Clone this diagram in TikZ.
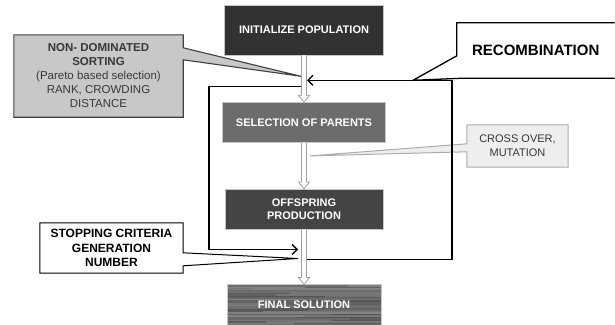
\documentclass[tikz,border=0pt]{standalone}
\usepackage{fontspec}
\setmainfont{Liberation Sans}
\usetikzlibrary{arrows.meta,positioning,calc,backgrounds}
\definecolor{initdark}{RGB}{50,50,50}
\definecolor{selgray}{RGB}{108,108,108}
\definecolor{offdark}{RGB}{68,68,68}
\definecolor{sortgray}{RGB}{200,200,200}
\definecolor{crosspale}{RGB}{238,238,238}

% open block arrow between two stages of the main column
\newcommand{\hollowarrow}[2]{%
  \draw[hollowline] ($(#1.south)+(-2.5,0)$) -- ($(#2.north)+(-2.5,-7)$) -- ++(-3,0) -- (#2.north)
    -- ($(#2.north)+(5.5,-7)$) -- ++(-3,0) -- ($(#1.south)+(2.5,0)$);}

\begin{document}
\begin{tikzpicture}[x=1pt,y=-1pt,every node/.style={align=center},
  stage/.style={minimum width=158pt,minimum height=40pt,inner sep=2pt,text=white,
    font=\fontsize{11}{13}\selectfont\bfseries,draw=gray!45,line width=0.6pt},
  note/.style={inner sep=2pt,font=\fontsize{11.5}{14}\selectfont,text=black!78},
  loopline/.style={line width=1.3pt,-{Straight Barb[length=5pt,width=10pt]}},
  hollowline/.style={draw=gray!75,fill=white,line width=0.8pt}]
  \useasboundingbox (0,0) rectangle (615,324);

  % main column
  \node[stage,fill=initdark,minimum width=159pt,minimum height=50pt] (init) at (304,30)
    {INITIALIZE POPULATION};
  \node[stage,fill=selgray,minimum width=163pt,below=47pt of init] (sel) {SELECTION OF PARENTS};
  \node[stage,fill=offdark,below=46pt of sel] (off) {OFFSPRING\\PRODUCTION};
  \node[stage,draw=none,minimum width=153pt,below=55pt of off] (final) {FINAL SOLUTION};

  % notes
  \node[note,minimum width=169pt,minimum height=82pt] (sort) at (98.5,76)
    {\textbf{NON- DOMINATED}\\\textbf{SORTING}\\(Pareto based selection)\\RANK, CROWDING\\DISTANCE};
  \node[note,minimum width=157.5pt,minimum height=55pt,text=black,
    font=\fontsize{15}{17}\selectfont\bfseries] (recomb) at (535.75,50.5) {RECOMBINATION};
  \node[note,minimum width=101pt,minimum height=42pt,font=\fontsize{11}{14}\selectfont] (cross)
    at (517.5,146) {CROSS OVER,\\MUTATION};
  \node[note,minimum width=143pt,minimum height=50pt,text=black,
    font=\fontsize{12}{14.5}\selectfont\bfseries] (stop) at (111.5,248)
    {STOPPING CRITERIA\\GENERATION\\NUMBER};

  % pointer tips
  \coordinate (sorttip) at ($(init.south)+(-3,21)$);
  \coordinate (recombtip) at ($(init.south)+(109,25)$);
  \coordinate (crosstip) at ($(sel.south)+(6,13)$);
  \coordinate (stoptip) at ($(off.south)+(-6,29)$);

  % loops back into the column
  \coordinate (lstart) at ($(init.south)+(-2.5,31)$);
  \coordinate (lend) at ($(off.south)+(-6,20)$);
  \draw[loopline] (lstart) -- ++(-92.5,0) |- (lend);
  \coordinate (rstart) at ($(off.south)+(2.5,30)$);
  \coordinate (rend) at ($(init.south)+(3,25)$);
  \draw[loopline] (rstart) -- ++(145.5,0) |- (rend);

  \hollowarrow{init}{sel}
  \hollowarrow{sel}{off}
  \hollowarrow{off}{final}

  \begin{scope}[on background layer]
    % grained fill of the last stage
    \fill[black!57] (final.north west) rectangle (final.south east);
    \pgfmathsetseed{5}
    \foreach \k in {0,...,25} {
      \pgfmathtruncatemacro{\shade}{48+rnd*20}
      \pgfmathsetmacro{\cut}{20+rnd*110}
      \draw[black!\shade,line width=1.1pt] ($(final.north west)+(0,1.5+\k*1.5)$) -- ++(\cut,0);
      \pgfmathtruncatemacro{\shadeb}{48+rnd*20}
      \draw[black!\shadeb,line width=1.1pt] ($(final.north west)+(\cut,1.5+\k*1.5)$)
        -- ($(final.north east)+(0,1.5+\k*1.5)$);
    }
    \draw[gray!45,line width=0.6pt] (final.north west) rectangle (final.south east);

    % callouts
    \draw[fill=sortgray,draw=black!75,line width=1.1pt] (sort.north west) -- (sort.north east)
      -- ($(sort.north east)+(0,13)$) -- (sorttip) -- ($(sort.north east)+(0,25)$)
      -- (sort.south east) -- (sort.south west) -- cycle;
    \draw[fill=white,draw=black,line width=1.3pt] (recomb.north east) -- (recomb.north west)
      -- ($(recomb.north west)+(0,33)$) -- (recombtip) -- ($(recomb.south west)+(6,0)$)
      -- (recomb.south east);
    \draw[fill=crosspale,draw=gray!65,line width=1pt] (cross.north west) -- (cross.north east)
      -- (cross.south east) -- (cross.south west) -- ($(cross.north west)+(0,27)$)
      -- (crosstip) -- ($(cross.north west)+(0,19)$) -- cycle;
    \draw[fill=white,draw=black,line width=1pt] (stop.north west) -- (stop.north east)
      -- ($(stop.north east)+(0,30)$) -- (stoptip) -- ($(stop.north east)+(0,43)$)
      -- (stop.south east) -- (stop.south west) -- cycle;
  \end{scope}
\end{tikzpicture}
\end{document}
